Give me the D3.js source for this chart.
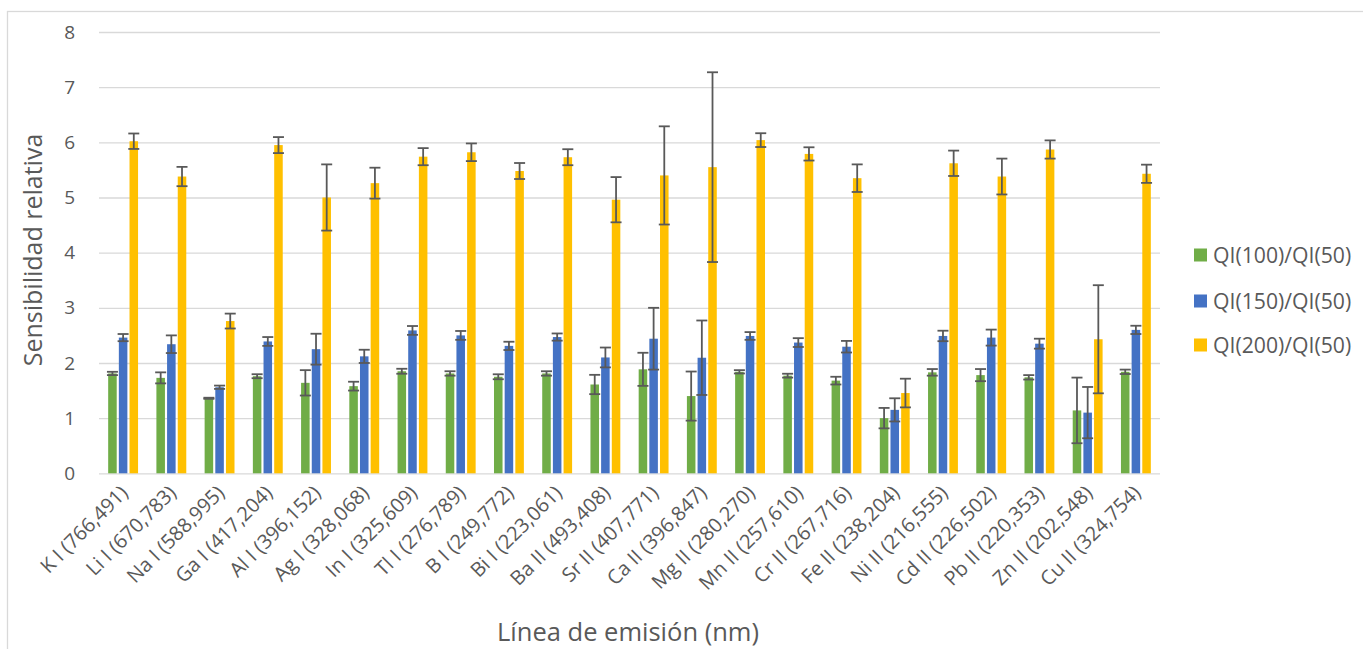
<!DOCTYPE html>
<html>
<head>
<meta charset="utf-8">
<script src="https://cdn.jsdelivr.net/npm/d3@7"></script>
<style>
    body { margin: 0; background: #fff; }
    text { font-family: "Open Sans", sans-serif; fill: #595959; }
</style>
</head>
<body>
<script>

// emission lines (x categories)
var categories = ["K I (766,491)", "Li I (670,783)", "Na I (588,995)", "Ga I (417,204)", "Al I (396,152)",
    "Ag I (328,068)", "In I (325,609)", "Tl I (276,789)", "B I (249,772)", "Bi I (223,061)", "Ba II (493,408)",
    "Sr II (407,771)", "Ca II (396,847)", "Mg II (280,270)", "Mn II (257,610)", "Cr II (267,716)",
    "Fe II (238,204)", "Ni II (216,555)", "Cd II (226,502)", "Pb II (220,353)", "Zn II (202,548)", "Cu II (324,754)"];

var seriesNames = ["QI(100)/QI(50)", "QI(150)/QI(50)", "QI(200)/QI(50)"];

// relative sensitivity
var q100 = [1.81, 1.73, 1.36, 1.76, 1.64, 1.58, 1.85, 1.81, 1.75, 1.81, 1.61,
    1.885, 1.40, 1.84, 1.77, 1.68, 1.00, 1.83, 1.78, 1.74, 1.14, 1.84];
var q150 = [2.46, 2.34, 1.56, 2.39, 2.25, 2.12, 2.59, 2.50, 2.31, 2.47, 2.10,
    2.44, 2.095, 2.49, 2.37, 2.295, 1.15, 2.49, 2.46, 2.35, 1.10, 2.60];
var q200 = [6.02, 5.38, 2.76, 5.95, 5.00, 5.26, 5.74, 5.82, 5.48, 5.73, 4.96,
    5.40, 5.55, 6.04, 5.79, 5.35, 1.455, 5.62, 5.38, 5.87, 2.43, 5.43];

// error bars (+/-)
var e100 = [0.03, 0.10, 0.01, 0.036, 0.23, 0.08, 0.045, 0.04, 0.045, 0.04, 0.175,
    0.30, 0.445, 0.03, 0.035, 0.07, 0.185, 0.06, 0.11, 0.04, 0.595, 0.04];
var e150 = [0.065, 0.16, 0.03, 0.08, 0.28, 0.12, 0.08, 0.08, 0.075, 0.065, 0.18,
    0.56, 0.675, 0.07, 0.08, 0.105, 0.21, 0.095, 0.145, 0.09, 0.465, 0.075];
var e200 = [0.14, 0.175, 0.135, 0.145, 0.60, 0.28, 0.155, 0.16, 0.145, 0.145, 0.41,
    0.89, 1.72, 0.125, 0.12, 0.25, 0.26, 0.23, 0.325, 0.165, 0.98, 0.165];

var yTicks = [0, 1, 2, 3, 4, 5, 6, 7, 8];

var colors = ["#70AD47", "#4472C4", "#FFC000"];

var w = 1363, h = 649;
var padL = 99, padR = 1160, padT = 32, padB = 473.3;

var vals = [q100, q150, q200];
var errs = [e100, e150, e200];

// flat table built from the arrays
var rows = [];
categories.forEach(function (c, i) {
    seriesNames.forEach(function (s, j) {
        rows.push({cat: c, ser: s, v: vals[j][i], e: errs[j][i], k: j});
    });
});

var svg = d3.select("body").append("svg")
    .attr("width", w)
    .attr("height", h);

// chart border
svg.append("rect")
    .attr("x", 7.5).attr("y", 11.5)
    .attr("width", w).attr("height", h)
    .attr("fill", "none")
    .attr("stroke", "#d9d9d9")
    .attr("stroke-width", 1.3);

var yScale = d3.scaleLinear()
    .domain([0, 8])
    .range([padB, padT]);

var xScale = d3.scaleBand()
    .domain(categories)
    .range([padL, padR]);

var xSub = d3.scaleBand()
    .domain(seriesNames)
    .range([0, xScale.bandwidth()])
    .paddingInner(0.2)
    .paddingOuter(0.86);

// gridlines + y labels
var yAxis = d3.axisLeft(yScale)
    .tickValues(yTicks)
    .tickSize(-(padR - padL))
    .tickPadding(24)
    .tickFormat(d3.format("d"));

var gy = svg.append("g")
    .attr("class", "axisy")
    .attr("transform", "translate(" + padL + ",0)")
    .call(yAxis);
gy.select(".domain").remove();
gy.selectAll("line").attr("stroke", "#d9d9d9").attr("stroke-width", 1.3);
gy.selectAll("text")
    .attr("font-size", 19)
    .style("font-family", "'Open Sans', sans-serif")
    .attr("fill", "#595959");

// bars
svg.selectAll("rect.bar")
    .data(rows)
    .enter().append("rect")
    .attr("class", "bar")
    .attr("x", function (d) { return xScale(d.cat) + xSub(d.ser) })
    .attr("width", xSub.bandwidth())
    .attr("y", function (d) { return yScale(d.v) })
    .attr("height", function (d) { return padB - yScale(d.v) })
    .attr("fill", function (d) { return colors[d.k] });

// error bars
var capW = 11;
var eb = svg.selectAll("g.err")
    .data(rows)
    .enter().append("g")
    .attr("class", "err")
    .attr("stroke", "#595959")
    .attr("stroke-width", 1.8);

eb.append("line")
    .attr("x1", function (d) { return xScale(d.cat) + xSub(d.ser) + xSub.bandwidth() / 2 })
    .attr("x2", function (d) { return xScale(d.cat) + xSub(d.ser) + xSub.bandwidth() / 2 })
    .attr("y1", function (d) { return yScale(d.v + d.e) })
    .attr("y2", function (d) { return yScale(d.v - d.e) });

[1, -1].forEach(function (sgn) {
    eb.append("line")
        .attr("x1", function (d) { return xScale(d.cat) + xSub(d.ser) + xSub.bandwidth() / 2 - capW / 2 })
        .attr("x2", function (d) { return xScale(d.cat) + xSub(d.ser) + xSub.bandwidth() / 2 + capW / 2 })
        .attr("y1", function (d) { return yScale(d.v + sgn * d.e) })
        .attr("y2", function (d) { return yScale(d.v + sgn * d.e) });
});

// x labels rotated
svg.selectAll("text.xlab")
    .data(categories)
    .enter().append("text")
    .attr("class", "xlab")
    .attr("transform", function (d) {
        return "translate(" + (xScale(d) + xScale.bandwidth() / 2 + 6) + "," + 494 + ") rotate(-45)"
    })
    .attr("text-anchor", "end")
    .attr("font-size", 20)
    .text(function (d) { return d });

// axis titles
svg.append("text")
    .attr("transform", "translate(42,250) rotate(-90)")
    .attr("text-anchor", "middle")
    .attr("font-size", 25)
    .text("Sensibilidad relativa");

svg.append("text")
    .attr("x", 628)
    .attr("y", 641)
    .attr("text-anchor", "middle")
    .attr("font-size", 25.5)
    .text("Línea de emisión (nm)");

// legend
var legY = [255, 301, 345];
var leg = svg.selectAll("g.leg")
    .data(seriesNames)
    .enter().append("g")
    .attr("class", "leg")
    .attr("transform", function (d, i) { return "translate(1194," + legY[i] + ")" });

leg.append("rect")
    .attr("x", 0).attr("y", -6.5)
    .attr("width", 13).attr("height", 13)
    .attr("fill", function (d, i) { return colors[i] });

leg.append("text")
    .attr("x", 19)
    .attr("dy", "0.36em")
    .attr("font-size", 21.2)
    .text(function (d) { return d });

</script>
</body>
</html>
